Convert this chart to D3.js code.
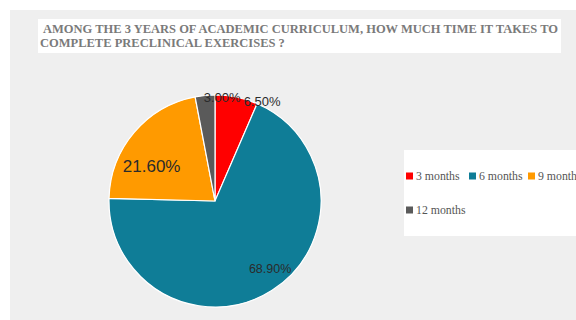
<!DOCTYPE html>
<html>
<head>
<meta charset="utf-8">
<script src="https://cdn.jsdelivr.net/npm/d3@7"></script>
<style>
  html, body { margin: 0; padding: 0; background: #ffffff; }
  svg { display: block; }
</style>
</head>
<body>
<svg id="chart" width="576" height="320"></svg>
<script>
// Survey answers: time needed to finish the preclinical exercises
const categories = ["3 months", "6 months", "9 months", "12 months"];
const shares = [6.5, 68.9, 21.6, 3.0];
const valueLabels = ["6.50%", "68.90%", "21.60%", "3.00%"];
const colors = ["#ff0000", "#0f7d97", "#ff9a00", "#5a5a5a"];
const titleLines = [
  "AMONG THE 3 YEARS OF ACADEMIC CURRICULUM, HOW MUCH TIME IT TAKES TO",
  "COMPLETE PRECLINICAL EXERCISES ?"
];

const svg = d3.select("#chart");

// grey panel behind everything
svg.append("rect").attr("x", 10).attr("y", 10).attr("width", 566).attr("height", 310)
  .attr("fill", "#efefef");

// title box
svg.append("rect").attr("x", 38).attr("y", 19).attr("width", 523).attr("height", 34)
  .attr("fill", "#ffffff");
const title = svg.append("text")
  .attr("font-family", "'Liberation Serif', 'Times New Roman', serif")
  .attr("font-weight", "bold").attr("font-size", 12.5).attr("fill", "#7a7a7a");
titleLines.forEach((t, i) => {
  title.append("tspan").attr("x", i === 0 ? 43 : 40).attr("y", 33 + i * 14).text(t);
});

// pie
const cx = 215, cy = 201, radius = 106;
const color = d3.scaleOrdinal().domain(categories).range(colors);
const pie = d3.pie().sort(null).value(d => d.value);
const arcs = pie(categories.map((c, i) => ({ cat: c, value: shares[i], label: valueLabels[i] })));
const arc = d3.arc().innerRadius(0).outerRadius(radius);

const g = svg.append("g").attr("transform", `translate(${cx},${cy})`);
g.selectAll("path").data(arcs).join("path")
  .attr("d", arc)
  .attr("fill", d => color(d.data.cat))
  .attr("stroke", "#ffffff").attr("stroke-width", 1.2);

// value labels: radius along the slice mid-angle, font size, extra offset
const labelPlacement = {
  "3 months":  { r: 104, size: 13, dx: 26, dy: 7 },
  "6 months":  { r: 80,  size: 12.5, dx: 12, dy: 5 },
  "9 months":  { r: 70,  size: 17, dx: -10, dy: 16 },
  "12 months": { r: 104, size: 13, dx: 17, dy: 5 }
};
g.selectAll("text.val").data(arcs).join("text")
  .attr("class", "val")
  .each(function (d) {
    const p = labelPlacement[d.data.cat];
    const a = (d.startAngle + d.endAngle) / 2;
    d3.select(this)
      .attr("x", Math.sin(a) * p.r + p.dx)
      .attr("y", -Math.cos(a) * p.r + p.dy)
      .attr("font-size", p.size);
  })
  .attr("text-anchor", "middle")
  .attr("font-family", "'Liberation Sans', Arial, sans-serif")
  .attr("fill", "#2b2b2b")
  .text(d => d.data.label);

// legend
svg.append("rect").attr("x", 404).attr("y", 150).attr("width", 172).attr("height", 86)
  .attr("fill", "#ffffff");
const legendPos = [[406, 180], [469, 180], [528, 180], [406, 214]];
const leg = svg.selectAll("g.leg").data(categories).join("g")
  .attr("class", "leg")
  .attr("transform", (d, i) => `translate(${legendPos[i][0]},${legendPos[i][1]})`);
leg.append("rect").attr("x", 0).attr("y", -7.5).attr("width", 7).attr("height", 7)
  .attr("fill", d => color(d));
leg.append("text").attr("x", 10).attr("y", 0)
  .attr("font-family", "'Liberation Serif', 'Times New Roman', serif")
  .attr("font-size", 11.8).attr("fill", "#555555")
  .text(d => d);
</script>
</body>
</html>
